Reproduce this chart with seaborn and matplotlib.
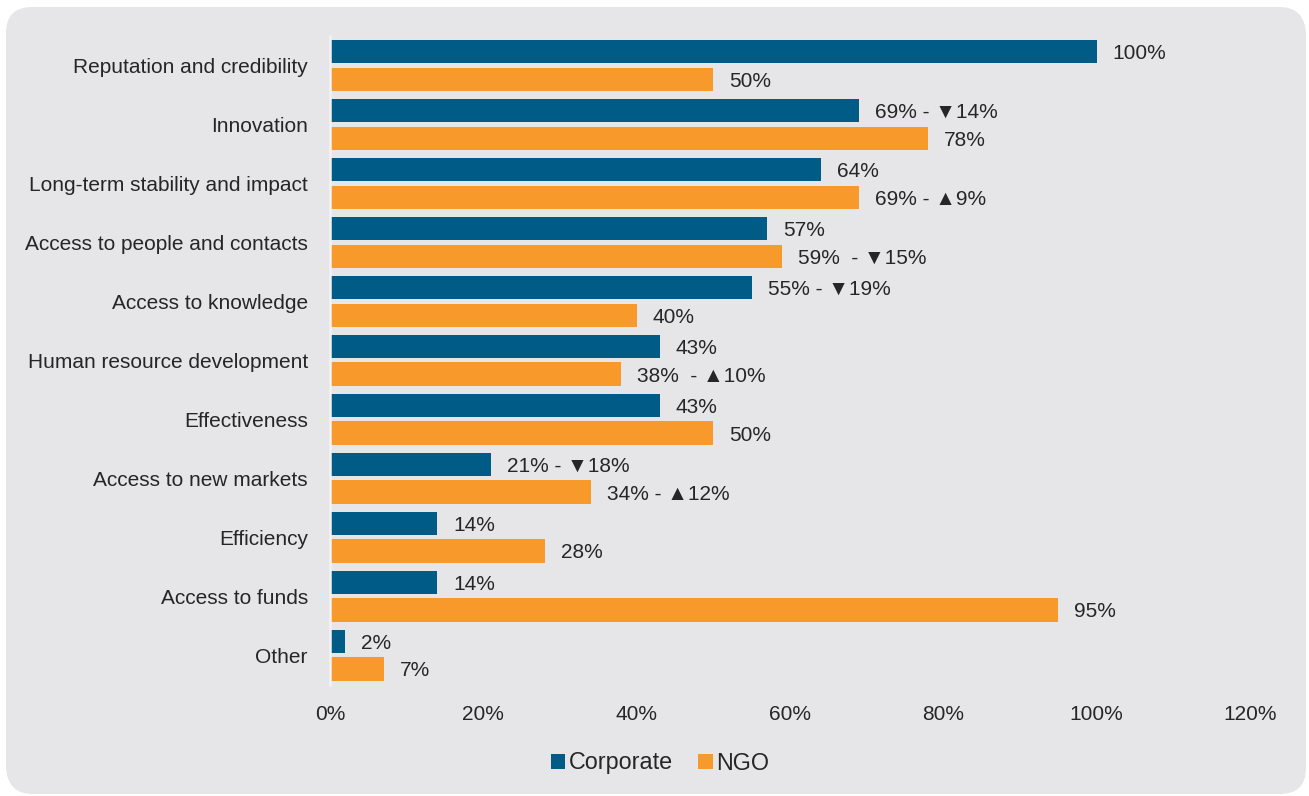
import matplotlib
matplotlib.use("Agg")
import matplotlib.pyplot as plt
from matplotlib.patches import FancyBboxPatch, Patch
from matplotlib.transforms import IdentityTransform
import seaborn as sns
import pandas as pd

categories = [
    "Reputation and credibility",
    "Innovation",
    "Long-term stability and impact",
    "Access to people and contacts",
    "Access to knowledge",
    "Human resource development",
    "Effectiveness",
    "Access to new markets",
    "Efficiency",
    "Access to funds",
    "Other",
]
corporate = [100, 69, 64, 57, 55, 43, 43, 21, 14, 14, 2]
ngo = [50, 78, 69, 59, 40, 38, 50, 34, 28, 95, 7]
corporate_labels = ["100%", "69% - ▼14%", "64%", "57%", "55% - ▼19%", "43%",
                    "43%", "21% - ▼18%", "14%", "14%", "2%"]
ngo_labels = ["50%", "78%", "69% - ▲9%", "59%  - ▼15%", "40%", "38%  - ▲10%",
              "50%", "34% - ▲12%", "28%", "95%", "7%"]
series = ["Corporate", "NGO"]
colors = ["#005b86", "#f7992b"]
xticks = [0, 20, 40, 60, 80, 100, 120]

df = pd.DataFrame({
    "category": categories * 2,
    "group": [series[0]] * len(categories) + [series[1]] * len(categories),
    "value": corporate + ngo,
})

sns.set_theme(style="white")
plt.rcParams["font.family"] = ["Liberation Sans", "DejaVu Sans"]
text_color = "#262626"
bg = "#e6e6e9"
fs = 15

W, H = 1309, 796
fig = plt.figure(figsize=(W / 100, H / 100), dpi=100)
fig.patch.set_facecolor("white")

# rounded panel with a faint shadow, in pixel coordinates, behind the axes
shadow = FancyBboxPatch((7, 2), 1299, 785, boxstyle="round,pad=0,rounding_size=26",
                        transform=IdentityTransform(), facecolor="#d6d6d8",
                        edgecolor="none", alpha=0.6, zorder=-2)
panel = FancyBboxPatch((6, 4), 1299, 785, boxstyle="round,pad=0,rounding_size=26",
                       transform=IdentityTransform(), facecolor=bg,
                       edgecolor="none", zorder=-1)
fig.patches.extend([shadow, panel])

top, bottom = 36, 684.5
left, right = 330, 1250
ax = fig.add_axes([left / W, (H - bottom) / H, (right - left) / W, (bottom - top) / H])
ax.set_facecolor("none")

sns.barplot(data=df, y="category", x="value", hue="group", hue_order=series,
            palette=colors, orient="h", width=0.94, gap=0.16, saturation=1,
            linewidth=0, legend=False, ax=ax)

for container, labels in zip(ax.containers, [corporate_labels, ngo_labels]):
    texts = ax.bar_label(container, labels=labels, padding=11.5, fontsize=fs,
                         color=text_color)
    for t in texts:
        t.set_va("center_baseline")

ax.set_xlim(0, 120)
ax.set_xticks(xticks)
ax.set_xticklabels([f"{t}%" for t in xticks])
ax.set_xlabel("")
ax.set_ylabel("")
ax.tick_params(axis="x", length=0, pad=15, labelsize=fs, labelcolor=text_color)
ax.tick_params(axis="y", length=0, pad=16, labelsize=fs, labelcolor=text_color)
for side in ["top", "right", "bottom"]:
    ax.spines[side].set_visible(False)
ax.spines["left"].set_color("#f3f3f4")
ax.spines["left"].set_linewidth(1.8)

handles = [Patch(facecolor=c, edgecolor="none", label=s) for s, c in zip(series, colors)]
fig.legend(handles=handles, loc="center", bbox_to_anchor=(660 / W, 1 - 763 / H),
           ncol=2, frameon=False, fontsize=16.8, handlelength=0.62, handleheight=0.62,
           handletextpad=0.15, columnspacing=1.1, labelcolor=text_color)

fig.savefig("out.png", dpi=100, facecolor="white")
